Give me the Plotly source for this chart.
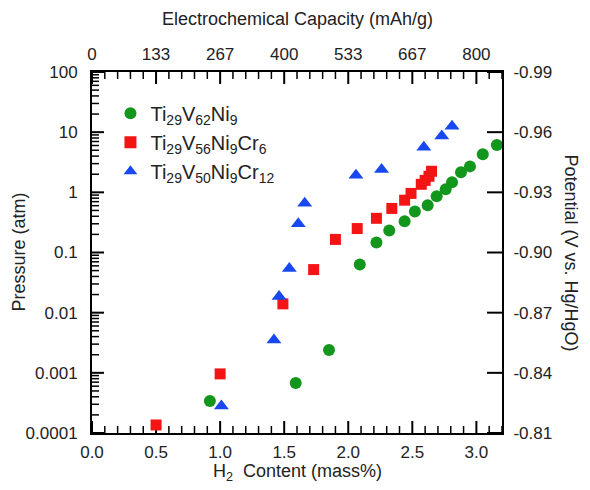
import plotly.graph_objects as go

# Data (H2 content in mass%, pressure in atm)
green_x = [0.92, 1.59, 1.85, 2.09, 2.22, 2.32, 2.44, 2.52, 2.62, 2.69, 2.76, 2.81, 2.88, 2.95, 3.05, 3.16]
green_y = [0.00034, 0.00068, 0.0024, 0.063, 0.147, 0.233, 0.33, 0.48, 0.61, 0.86, 1.12, 1.47, 2.15, 2.7, 4.3, 6.1]

red_x = [0.50, 1.00, 1.49, 1.73, 1.90, 2.07, 2.22, 2.34, 2.44, 2.49, 2.57, 2.60, 2.63, 2.65]
red_y = [0.000136, 0.00096, 0.014, 0.052, 0.165, 0.25, 0.37, 0.54, 0.74, 0.96, 1.36, 1.58, 1.85, 2.24]

blue_x = [1.01, 1.42, 1.46, 1.54, 1.61, 1.66, 2.06, 2.26, 2.59, 2.73, 2.81]
blue_y = [0.00028, 0.0035, 0.0185, 0.054, 0.30, 0.66, 1.92, 2.4, 5.6, 8.6, 12.6]

names = ["Ti<sub>29</sub>V<sub>62</sub>Ni<sub>9</sub>",
         "Ti<sub>29</sub>V<sub>56</sub>Ni<sub>9</sub>Cr<sub>6</sub>",
         "Ti<sub>29</sub>V<sub>50</sub>Ni<sub>9</sub>Cr<sub>12</sub>"]

# tick definitions
x_ticks = [0.0, 0.5, 1.0, 1.5, 2.0, 2.5, 3.0]
x_labels = ["0.0", "0.5", "1.0", "1.5", "2.0", "2.5", "3.0"]
x_minor = [i / 10 for i in range(1, 33) if i % 5 != 0]
cap_per_mass = 800 / 3
cap_labels = ["0", "133", "267", "400", "533", "667", "800"]
p_ticks = [0.0001, 0.001, 0.01, 0.1, 1, 10, 100]
p_labels = ["0.0001", "0.001", "0.01", "0.1", "1", "10", "100"]
p_minor = [m * 10.0 ** e for e in range(-4, 2) for m in range(2, 10)]
pot_ticks = [-0.81, -0.84, -0.87, -0.90, -0.93, -0.96, -0.99]
pot_labels = ["-0.81", "-0.84", "-0.87", "-0.90", "-0.93", "-0.96", "-0.99"]

x_range = [0, 3.2]
pot_range = [-0.81, -0.99]
p_range_log = [-4, 2]
p_min, p_max = 10.0 ** p_range_log[0], 10.0 ** p_range_log[1]

FONT = "Liberation Sans, Arial, sans-serif"
TXT = "#222222"
fig = go.Figure()

# inward tick marks drawn as line segments in the axes' own coordinates
PLOT_W, PLOT_H = 410, 361
x_per_px = (x_range[1] - x_range[0]) / PLOT_W
dec_per_px = (p_range_log[1] - p_range_log[0]) / PLOT_H

def tick_segments(xv, yv, major_len, minor_len):
    xs, ys = [], []
    return xs, ys

def add_ticks(x_vals, y_vals, length, width):
    xs, ys = [], []
    for v in x_vals:
        f = 10 ** (length * dec_per_px)
        xs += [v, v, None, v, v, None]
        ys += [p_min, p_min * f, None, p_max, p_max / f, None]
    for v in y_vals:
        d = length * x_per_px
        xs += [x_range[0], x_range[0] + d, None]
        ys += [v, v, None]
    fig.add_trace(go.Scatter(x=xs, y=ys, mode="lines", line=dict(color="black", width=width),
                             showlegend=False, hoverinfo="skip", connectgaps=False))

add_ticks(x_ticks, p_ticks, 12, 2)
add_ticks(x_minor, p_minor, 7, 1.5)
# right (potential) axis ticks, on its own scale
rx, ry = [], []
for v in pot_ticks:
    rx += [x_range[1], x_range[1] - 15 * x_per_px, None]
    ry += [v, v, None]
fig.add_trace(go.Scatter(x=rx, y=ry, xaxis="x", yaxis="y2", mode="lines",
                         line=dict(color="black", width=2), showlegend=False,
                         hoverinfo="skip", connectgaps=False))

fig.add_trace(go.Scatter(x=green_x, y=green_y, mode="markers", name=names[0],
                         marker=dict(symbol="circle", size=12, color="#13961c")))
fig.add_trace(go.Scatter(x=red_x, y=red_y, mode="markers", name=names[1],
                         marker=dict(symbol="square", size=11, color="#f41414")))
fig.add_trace(go.Scatter(x=blue_x, y=blue_y, mode="markers", name=names[2],
                         marker=dict(symbol="triangle-up", size=13, color="#1848f0")))
fig.add_trace(go.Scatter(x=[0], y=[-0.9], xaxis="x2", yaxis="y2", mode="markers",
                         marker=dict(opacity=0), showlegend=False, hoverinfo="skip"))

tf = dict(size=17, color=TXT, family=FONT)
axis_common = dict(showline=True, linecolor="black", linewidth=2, showgrid=False,
                   zeroline=False, ticks="", automargin=False, tickmode="array", tickfont=tf)

# figure is shifted by the page's 8px body margin, so size/margins compensate
fig.update_layout(
    width=582, height=482,
    margin=dict(l=84, r=88, t=64, b=57),
    paper_bgcolor="white", plot_bgcolor="white",
    font=dict(family=FONT, color=TXT),
    showlegend=True,
    legend=dict(x=0.045, y=0.94, xanchor="left", yanchor="top", bgcolor="rgba(0,0,0,0)",
                font=dict(size=20, family=FONT, color=TXT), itemsizing="constant",
                tracegroupgap=0),
    xaxis=dict(range=x_range, tickvals=x_ticks, ticktext=x_labels, ticklabelstandoff=3,
               **axis_common),
    xaxis2=dict(range=[x_range[0] * cap_per_mass, x_range[1] * cap_per_mass],
                overlaying="x", side="top", anchor="y",
                tickvals=[v * cap_per_mass for v in x_ticks], ticktext=cap_labels,
                ticklabelstandoff=3, **axis_common),
    yaxis=dict(type="log", range=p_range_log, tickvals=p_ticks, ticktext=p_labels,
               ticklabelstandoff=9, **axis_common),
    yaxis2=dict(range=pot_range, overlaying="y", side="right", anchor="x",
                tickvals=pot_ticks, ticktext=pot_labels, ticklabelstandoff=6,
                **axis_common),
    annotations=[
        dict(text="Potential (V vs. Hg/HgO)", textangle=90, xref="paper", yref="paper",
             x=(571 - 92) / 410, y=0.5, xanchor="center", yanchor="middle", showarrow=False,
             font=dict(size=18, family=FONT, color=TXT)),
        dict(text="Pressure (atm)", textangle=-90, xref="paper", yref="paper",
             x=(18 - 92) / 410, y=0.5, xanchor="center", yanchor="middle", showarrow=False,
             font=dict(size=18, family=FONT, color=TXT)),
        dict(text="Electrochemical Capacity (mAh/g)", xref="paper", yref="paper",
             x=0.5, y=1 + (72 - 19) / 361, xanchor="center", yanchor="middle", showarrow=False,
             font=dict(size=18, family=FONT, color=TXT)),
        dict(text="H<sub>2</sub>  Content (mass%)", xref="paper", yref="paper",
             x=0.5, y=-(472 - 433) / 361, xanchor="center", yanchor="middle", showarrow=False,
             font=dict(size=18, family=FONT, color=TXT)),
    ],
)

fig.write_html("out.html")
